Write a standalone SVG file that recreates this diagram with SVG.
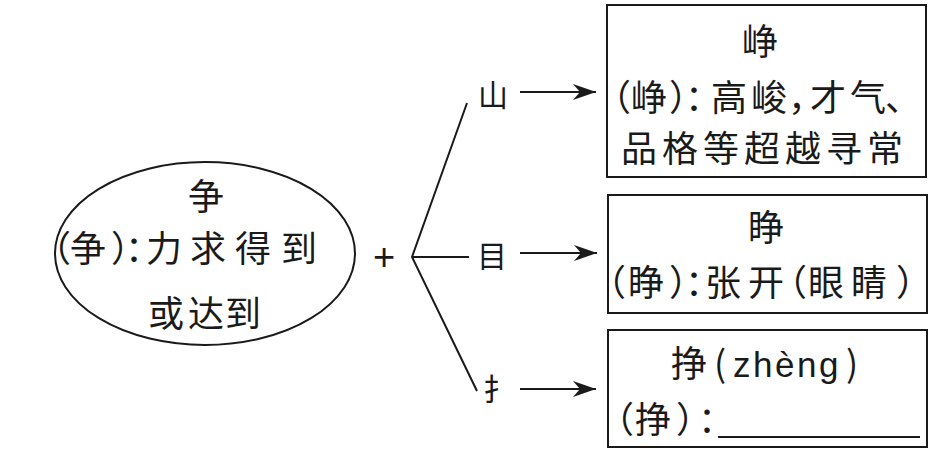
<svg xmlns="http://www.w3.org/2000/svg" width="948" height="451" viewBox="0 0 948 451">
<style>
.cn{font-family:"Noto Sans CJK SC","Noto Sans CJK JP",sans-serif;font-size:36px;fill:#1a1a1a}
.lbl{font-family:"Noto Sans CJK SC",sans-serif;font-size:30px;fill:#1a1a1a}
.lat{font-family:"Liberation Sans",Arial,sans-serif;fill:#1a1a1a}
.shape{fill:none;stroke:#1a1a1a;stroke-width:2}
.conn{fill:none;stroke:#1a1a1a;stroke-width:2}
</style>
<defs>
<marker id="arr" markerUnits="userSpaceOnUse" markerWidth="26" markerHeight="20" viewBox="-24 -10 26 20" refX="0" refY="0" orient="auto">
<path d="M0,0 L-23,-8 L-16,0 L-23,8 Z" fill="#1a1a1a"/>
</marker>
</defs>
<rect width="948" height="451" fill="#ffffff"/>
<g id="root">
<ellipse class="shape" cx="205" cy="253.5" rx="150" ry="91.5"/>
<text class="cn" x="206" y="210" text-anchor="middle">争</text>
<text class="cn" x="35 70 111 125 146 190 235 281" y="262">（争）：力求得到</text>
<text class="cn" x="148 188 225" y="327">或达到</text>
</g>
<text class="lat" x="384" y="270" font-size="38" text-anchor="middle">+</text>
<g id="connectors">
<polyline class="conn" points="467,103 412,257 477,391"/>
<line class="conn" x1="412" y1="257" x2="469" y2="257"/>
<line class="conn" x1="520" y1="92" x2="596" y2="92" marker-end="url(#arr)"/>
<line class="conn" x1="520" y1="253" x2="597" y2="253" marker-end="url(#arr)"/>
<line class="conn" x1="520" y1="389" x2="596" y2="389" marker-end="url(#arr)"/>
</g>
<g id="label-shan"><text class="lbl" x="493" y="106" text-anchor="middle">山</text></g>
<g id="label-mu"><text class="lbl" x="492" y="267" text-anchor="middle">目</text></g>
<g id="label-shou"><text class="lbl" x="498" y="400" text-anchor="middle">扌</text></g>
<g id="box-zheng-shan">
<rect class="shape" x="607" y="5" width="319" height="172"/>
<text class="cn" x="760" y="55" text-anchor="middle">峥</text>
<text class="cn" x="595 631 669 685 711 751 788 810 850 885" y="111">（峥）：高峻，才气、</text>
<text class="cn" x="621" y="162" letter-spacing="5">品格等超越寻常</text>
</g>
<g id="box-zheng-mu">
<rect class="shape" x="608" y="195" width="319" height="118"/>
<text class="cn" x="766" y="241" text-anchor="middle">睁</text>
<text class="cn" x="590 628 669 685 705 748 771 808 851 896" y="296">（睁）：张开（眼睛）</text>
</g>
<g id="box-zheng-shou">
<rect class="shape" x="608" y="330" width="319" height="117"/>
<text class="cn" y="377"><tspan x="671">挣</tspan><tspan x="714">(</tspan><tspan x="733" class="lat" font-size="35" letter-spacing="2.5">zhèng</tspan><tspan x="846">)</tspan></text>
<text class="cn" x="598 635 676 698" y="433">（挣）：</text>
<line class="shape" x1="718" y1="437" x2="920" y2="437"/>
</g>
</svg>
